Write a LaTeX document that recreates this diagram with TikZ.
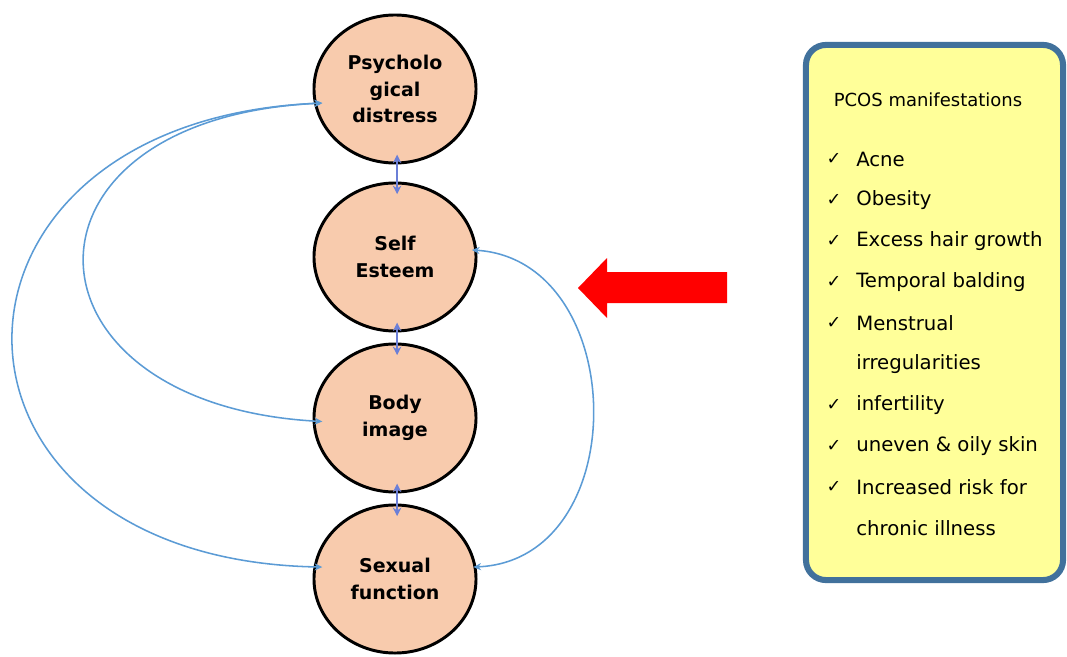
\documentclass[tikz,border=0pt]{standalone}
\usepackage{fontspec}
\setmainfont{DejaVu Sans}
\usetikzlibrary{arrows.meta,shapes.geometric}
\definecolor{peach}{HTML}{F8CBAD}
\definecolor{linkblue}{HTML}{5B9BD5}
\definecolor{stemblue}{HTML}{6B7FD7}
\definecolor{boxedge}{HTML}{41719C}
\definecolor{boxfill}{HTML}{FFFF99}
\definecolor{pcosred}{HTML}{FF0000}
\tikzset{
  factor/.style={draw, ellipse, line width=2.1pt, fill=peach, minimum width=4.05cm, minimum height=3.7cm, align=center, font=\bfseries\fontsize{13.5}{19}\selectfont},
  loopline/.style={{Stealth[length=5.5pt,width=5pt]}-{Stealth[length=5.5pt,width=5pt]}, draw=linkblue, line width=1.1pt},
  stemline/.style={{Stealth[length=6pt,width=6pt]}-{Stealth[length=6pt,width=6pt]}, draw=stemblue, line width=1.6pt},
  listbox/.style={draw=boxedge, line width=4.3pt, fill=boxfill, rounded corners=0.5cm, minimum width=6.425cm, minimum height=13.375cm},
  listtext/.style={font=\fontsize{14}{17}\selectfont, inner sep=0pt}
}

\begin{document}
\begin{tikzpicture}[x=0.025cm, y=-0.025cm]
  \useasboundingbox (0,0) rectangle (1067,657);
  % factors
  \node[factor] (psych) at (395,89) {Psycholo\\gical\\distress};
  \node[factor] (esteem) at (395,257) {Self\\Esteem};
  \node[factor] (body) at (395,418) {Body\\image};
  \node[factor] (sexual) at (395,579) {Sexual\\function};
  \foreach \a/\b in {psych/esteem, esteem/body, body/sexual}
    \draw[stemline] ([xshift=1.5pt,yshift=7pt]\a.south) -- ([xshift=1.5pt,yshift=-9pt]\b.north);
  % curved links
  \draw[loopline] ([xshift=7pt,yshift=-10pt]psych.west) .. controls (0,118) and (10,405) .. ([xshift=7pt,yshift=-2.5pt]body.west);
  \draw[loopline] ([xshift=7pt,yshift=-10pt]psych.west) .. controls (-90,120) and (-90,560) .. ([xshift=7pt,yshift=8.5pt]sexual.west);
  \draw[loopline] ([xshift=-4pt,yshift=5pt]esteem.east) .. controls (630,260) and (635,560) .. ([xshift=-3pt,yshift=8.5pt]sexual.east);
  % red arrow
  \fill[pcosred] (727,272) -- (607,272) -- (607,258) -- (578,288) -- (607,318) -- (607,303) -- (727,303) -- cycle;
  % manifestations
  \node[listbox] (pcos) at (934.5,312.5) {};
  \node[listtext, font=\fontsize{12.8}{15}\selectfont] (title) at (928,100) {PCOS manifestations};
  \foreach \y/\chk/\txt [count=\i] in {159/1/Acne, 200/1/Obesity, 241/1/Excess hair growth,
      282/1/Temporal balding, 323/1/Menstrual, 364/0/irregularities, 405/1/infertility,
      446/1/uneven \& oily skin, 487/1/Increased risk for, 528/0/chronic illness} {
    \node[listtext, anchor=west] (item\i) at (856,\y) {\txt};
    \ifnum\chk=1
      \node[font=\fontsize{12.5}{14}\selectfont, inner sep=0pt] (tick\i) at (834,\y) {✓};
    \fi
  }
\end{tikzpicture}
\end{document}
